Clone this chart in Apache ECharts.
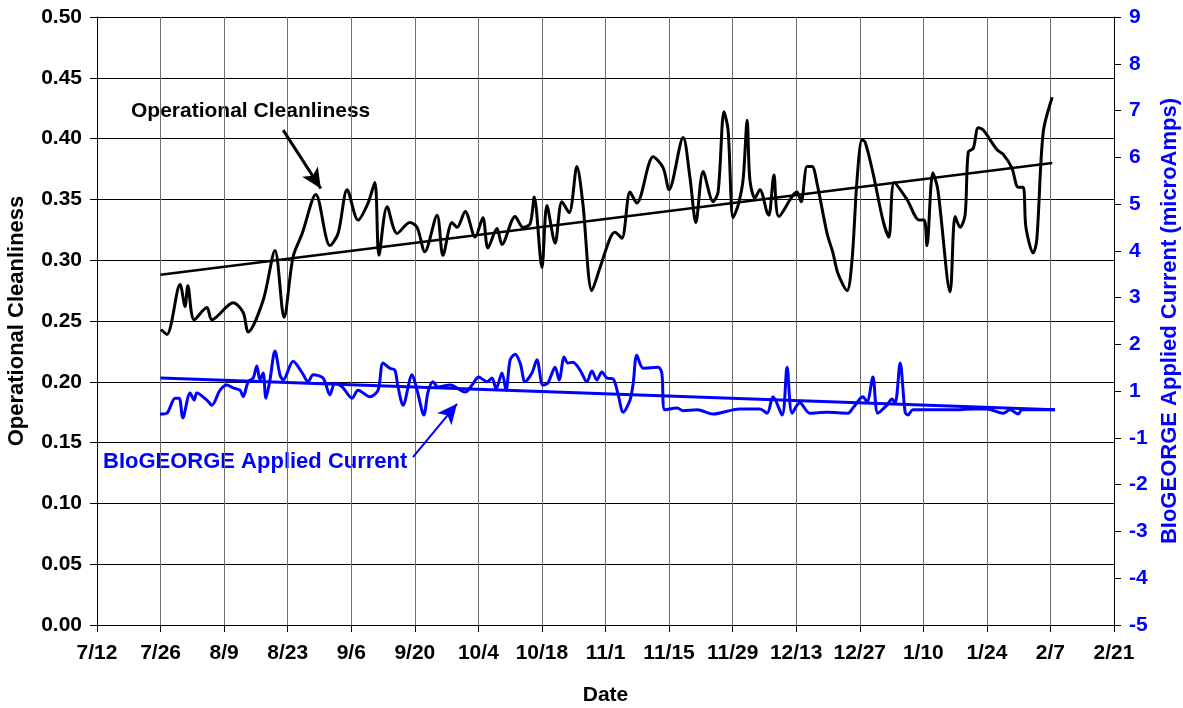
<!DOCTYPE html>
<html>
<head>
<meta charset="utf-8">
<script src="https://cdn.jsdelivr.net/npm/echarts@6/dist/echarts.min.js"></script>
<style>
html, body { margin: 0; padding: 0; background: #fff; }
#chart { width: 1183px; height: 708px; }
</style>
</head>
<body>
<div id="chart"></div>
<script>
// x tick labels, every 14 days starting 7/12 (day 0)
var dateLabels = ['7/12', '7/26', '8/9', '8/23', '9/6', '9/20', '10/4', '10/18', '11/1',
    '11/15', '11/29', '12/13', '12/27', '1/10', '1/24', '2/7', '2/21'];

// Operational cleanliness: [day since 7/12, value]
var cleanliness = [
    [14.1, 0.243], [15.4, 0.239], [18.3, 0.280], [19.4, 0.262], [20.0, 0.279], [21.4, 0.251],
    [24.2, 0.261], [25.3, 0.251], [30.0, 0.265], [32.2, 0.257], [33.3, 0.241], [36.6, 0.267],
    [39.2, 0.308], [41.2, 0.253], [43.2, 0.303], [45.2, 0.322], [48.2, 0.354], [51.3, 0.312],
    [53.1, 0.322], [55.1, 0.358], [57.5, 0.333], [59.7, 0.347], [61.2, 0.364], [62.1, 0.304],
    [63.9, 0.344], [66.1, 0.322], [68.9, 0.331], [70.5, 0.327], [72.2, 0.307], [74.9, 0.337],
    [76.2, 0.304], [78.2, 0.331], [79.3, 0.327], [81.1, 0.340], [83.3, 0.319], [85.0, 0.335],
    [86.1, 0.310], [88.1, 0.326], [89.2, 0.313], [92.1, 0.336], [93.8, 0.327], [95.4, 0.330],
    [96.3, 0.352], [98.0, 0.294], [99.1, 0.345], [100.9, 0.314], [102.4, 0.348], [104.0, 0.339],
    [105.7, 0.377], [107.0, 0.347], [109.0, 0.275], [110.8, 0.294], [113.0, 0.318], [114.1, 0.323],
    [115.6, 0.318], [117.4, 0.356], [118.9, 0.347], [122.5, 0.385], [124.7, 0.376], [126.0, 0.358],
    [129.1, 0.401], [130.6, 0.368], [131.9, 0.331], [133.5, 0.373], [135.7, 0.348], [136.8, 0.356],
    [138.1, 0.422], [139.0, 0.407], [140.1, 0.335], [141.2, 0.345], [142.3, 0.366], [143.2, 0.415],
    [143.8, 0.366], [144.9, 0.351], [146.0, 0.358], [147.6, 0.339], [148.0, 0.337], [149.1, 0.370],
    [150.2, 0.336], [154.2, 0.356], [155.1, 0.348], [156.4, 0.377], [157.5, 0.377], [158.6, 0.363],
    [160.8, 0.322], [162.1, 0.306], [163.2, 0.289], [165.2, 0.275], [166.3, 0.300], [167.4, 0.366],
    [168.5, 0.399], [169.2, 0.397], [170.9, 0.372], [173.1, 0.333], [174.4, 0.319], [175.6, 0.364],
    [178.4, 0.350], [181.1, 0.333], [182.2, 0.333], [182.8, 0.312], [184.1, 0.372], [185.2, 0.358],
    [187.9, 0.274], [189.0, 0.336], [190.1, 0.327], [191.2, 0.337], [191.9, 0.389], [193.0, 0.392],
    [194.1, 0.409], [195.2, 0.407], [198.2, 0.391], [199.6, 0.387], [201.5, 0.376], [202.9, 0.360],
    [204.0, 0.360], [204.6, 0.327], [206.2, 0.306], [207.0, 0.317], [208.4, 0.405], [210.4, 0.434]
];

// BIoGEORGE applied current (microAmps): [day since 7/12, value]
var current = [
    [13.9, 0.51], [15.4, 0.53], [17.2, 0.85], [18.1, 0.85], [18.9, 0.43], [20.5, 0.96],
    [21.4, 0.81], [22.0, 0.96], [24.2, 0.81], [25.3, 0.70], [27.1, 1.02], [28.6, 1.13],
    [30.0, 1.07], [31.5, 1.02], [32.2, 0.88], [33.3, 1.20], [34.4, 1.28], [35.2, 1.54],
    [35.9, 1.24], [36.6, 1.39], [37.2, 0.85], [38.1, 1.24], [39.2, 1.86], [40.3, 1.35],
    [41.0, 1.24], [43.2, 1.64], [45.2, 1.39], [46.5, 1.20], [47.6, 1.35], [49.8, 1.28],
    [51.3, 0.92], [52.4, 1.17], [54.0, 1.09], [56.2, 0.85], [57.5, 1.02], [60.1, 0.88],
    [61.9, 1.02], [63.0, 1.60], [64.5, 1.49], [65.6, 1.45], [66.3, 1.09], [67.4, 0.70],
    [69.4, 1.35], [70.5, 1.02], [72.0, 0.49], [72.9, 0.98], [74.0, 1.20], [75.1, 1.09],
    [77.8, 1.13], [81.1, 0.98], [82.6, 1.13], [84.1, 1.30], [85.9, 1.20], [87.0, 1.28],
    [87.9, 1.05], [89.2, 1.39], [90.1, 1.02], [91.0, 1.67], [92.1, 1.79], [93.2, 1.60],
    [94.3, 1.20], [95.8, 1.39], [96.9, 1.67], [98.2, 1.13], [99.3, 1.17], [100.9, 1.51],
    [101.8, 1.24], [102.9, 1.73], [103.7, 1.60], [104.8, 1.62], [106.4, 1.45], [107.9, 1.20],
    [109.0, 1.43], [110.1, 1.24], [111.2, 1.41], [112.3, 1.28], [113.7, 1.26], [114.8, 0.92],
    [115.9, 0.55], [117.4, 0.81], [118.1, 1.17], [118.9, 1.77], [120.3, 1.49], [123.6, 1.51],
    [124.4, 1.39], [125.1, 0.60], [127.8, 0.64], [129.1, 0.58], [132.2, 0.60], [135.7, 0.51],
    [140.1, 0.60], [141.6, 0.62], [146.0, 0.62], [147.6, 0.53], [148.9, 0.88], [150.9, 0.49],
    [152.0, 1.51], [153.1, 0.53], [154.8, 0.75], [157.0, 0.53], [160.8, 0.55], [165.4, 0.53],
    [166.5, 0.64], [168.7, 0.88], [169.6, 0.77], [170.9, 1.30], [172.0, 0.53], [174.0, 0.70],
    [175.1, 0.83], [175.8, 0.75], [176.9, 1.60], [178.0, 0.55], [178.6, 0.49], [179.7, 0.60],
    [185.0, 0.60], [188.5, 0.60], [192.9, 0.62], [196.0, 0.62], [199.6, 0.53], [201.1, 0.60],
    [202.9, 0.51], [203.7, 0.60], [211.0, 0.60]
];

// linear trend lines (end points)
var cleanTrend = [[14.0, 0.288], [210.4, 0.380]];
var currentTrend = [[14.0, 1.28], [211.0, 0.60]];

// annotation arrows: [day, value]
var cleanArrow = [[41.0, 0.407], [49.3, 0.359]];
var currentArrow = [[69.6, -0.41], [79.3, 0.73]];

var chart = echarts.init(document.getElementById('chart'));
var font = 'Liberation Sans, Arial, sans-serif';
var blue = '#0000ff';

var option = {
    animation: false,
    backgroundColor: '#fff',
    grid: { left: 97, right: 69, top: 17, bottom: 83, containLabel: false, outerBoundsMode: 'none' },
    xAxis: {
        type: 'value',
        min: 0, max: 224, interval: 14,
        name: 'Date',
        nameLocation: 'middle',
        nameGap: 60,
        nameTextStyle: { fontFamily: font, fontWeight: 'bold', fontSize: 21, color: '#000' },
        axisLine: { onZero: false, lineStyle: { color: '#000', width: 1 } },
        axisTick: { show: true, length: 7, lineStyle: { color: '#000' } },
        axisLabel: {
            margin: 18,
            fontFamily: font, fontWeight: 'bold', fontSize: 21, color: '#000',
            formatter: function (v) { return dateLabels[Math.round(v / 14)] || ''; }
        },
        splitLine: { show: true, lineStyle: { color: '#6e6e6e', width: 1 } }
    },
    yAxis: [
        {
            type: 'value',
            min: 0, max: 0.5, interval: 0.05,
            name: 'Operational Cleanliness',
            nameLocation: 'middle',
            nameGap: 69,
            nameRotate: 90,
            nameTextStyle: { fontFamily: font, fontWeight: 'bold', fontSize: 22, color: '#000' },
            axisLine: { show: true, lineStyle: { color: '#000', width: 1 } },
            axisTick: { show: true, length: 7, lineStyle: { color: '#000' } },
            axisLabel: {
                margin: 15,
                fontFamily: font, fontWeight: 'bold', fontSize: 21, color: '#000',
                formatter: function (v) { return v.toFixed(2); }
            },
            splitLine: { show: true, lineStyle: { color: '#000', width: 1 } }
        },
        {
            type: 'value',
            position: 'right',
            min: -4, max: 9, interval: 1,
            name: 'BIoGEORGE Applied Current (microAmps)',
            nameLocation: 'middle',
            nameGap: 41,
            nameRotate: 90,
            nameTextStyle: { fontFamily: font, fontWeight: 'bold', fontSize: 22, color: blue },
            axisLine: { show: true, lineStyle: { color: '#000', width: 1 } },
            axisTick: { show: true, length: 7, lineStyle: { color: '#000' } },
            axisLabel: {
                margin: 15,
                fontFamily: font, fontWeight: 'bold', fontSize: 21, color: blue,
                // the original axis skips the zero label
                formatter: function (v) { return String(v <= 0 ? v - 1 : v); }
            },
            splitLine: { show: false }
        }
    ],
    graphic: [
        {
            type: 'text', x: 131, y: 111,
            style: { text: 'Operational Cleanliness', fontFamily: font, fontWeight: 'bold', fontSize: 21, fill: '#000', verticalAlign: 'middle' }
        },
        {
            type: 'text', x: 103, y: 462,
            style: { text: 'BIoGEORGE Applied Current', fontFamily: font, fontWeight: 'bold', fontSize: 22, fill: blue, verticalAlign: 'middle' }
        }
    ],
    series: [
        {
            name: 'Operational Cleanliness',
            type: 'line',
            yAxisIndex: 0,
            data: cleanliness,
            symbol: 'none',
            smooth: 0.3,
            lineStyle: { color: '#000', width: 3 },
            z: 3,
            markLine: {
                silent: true,
                symbol: ['none', 'arrow'],
                symbolSize: [14, 20],
                label: { show: false },
                lineStyle: { color: '#000', width: 3, type: 'solid' },
                data: [[{ coord: cleanArrow[0] }, { coord: cleanArrow[1] }]]
            }
        },
        {
            name: 'Cleanliness trend',
            type: 'line',
            yAxisIndex: 0,
            data: cleanTrend,
            symbol: 'none',
            lineStyle: { color: '#000', width: 2.5 },
            z: 4
        },
        {
            name: 'Applied Current',
            type: 'line',
            yAxisIndex: 1,
            data: current,
            symbol: 'none',
            smooth: 0.3,
            lineStyle: { color: blue, width: 3 },
            z: 3,
            markLine: {
                silent: true,
                symbol: ['none', 'arrow'],
                symbolSize: [14, 20],
                label: { show: false },
                lineStyle: { color: blue, width: 2, type: 'solid' },
                data: [[{ coord: currentArrow[0] }, { coord: currentArrow[1] }]]
            }
        },
        {
            name: 'Current trend',
            type: 'line',
            yAxisIndex: 1,
            data: currentTrend,
            symbol: 'none',
            lineStyle: { color: blue, width: 3 },
            z: 4
        }
    ]
};

chart.setOption(option);
</script>
</body>
</html>
